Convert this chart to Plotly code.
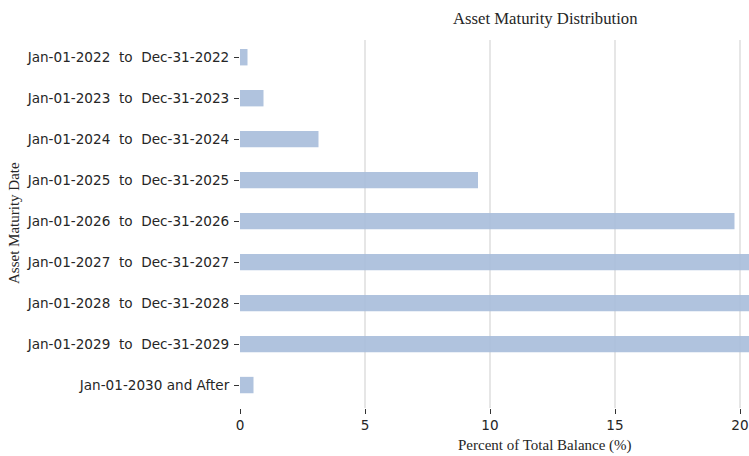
import plotly.graph_objects as go

categories = [
    "Jan-01-2022  to  Dec-31-2022",
    "Jan-01-2023  to  Dec-31-2023",
    "Jan-01-2024  to  Dec-31-2024",
    "Jan-01-2025  to  Dec-31-2025",
    "Jan-01-2026  to  Dec-31-2026",
    "Jan-01-2027  to  Dec-31-2027",
    "Jan-01-2028  to  Dec-31-2028",
    "Jan-01-2029  to  Dec-31-2029",
    "Jan-01-2030 and After",
]
percent_of_balance = [0.30, 0.94, 3.14, 9.52, 19.78, 21.6, 23.2, 21.1, 0.54]
x_tick_values = [0, 5, 10, 15, 20]
x_tick_labels = ["0", "5", "10", "15", "20"]

title_text = "Asset Maturity Distribution"
x_title = "Percent of Total Balance (%)"
y_title = "Asset Maturity Date"

tick_text = [c.replace(" ", "\u00a0") for c in categories]

W, H = 749, 456
L, R, T, B = 240, 0, 40, 48

fig = go.Figure(
    go.Bar(
        y=categories,
        x=percent_of_balance,
        orientation="h",
        width=0.4,
        marker=dict(color="rgba(167,189,218,0.9)", line=dict(width=0)),
        hoverinfo="x+y",
    )
)

fig.update_layout(
    width=W,
    height=H,
    margin=dict(l=L, r=R, t=T, b=B, pad=0),
    paper_bgcolor="white",
    plot_bgcolor="white",
    showlegend=False,
    font=dict(family="DejaVu Sans", size=13.6, color="#262626"),
)

fig.update_xaxes(
    range=[0, 20.36],
    tickvals=x_tick_values,
    ticktext=x_tick_labels,
    showgrid=True,
    gridcolor="#e6e6e6",
    gridwidth=2,
    zeroline=False,
    showline=False,
    ticks="outside",
    ticklen=5,
    tickwidth=1.2,
    tickcolor="#333333",
    tickfont=dict(family="DejaVu Sans", size=13.6, color="#262626"),
)

fig.update_yaxes(
    type="category",
    categoryorder="array",
    categoryarray=categories,
    tickvals=categories,
    ticktext=tick_text,
    range=[8.56, -0.42],
    showgrid=False,
    zeroline=False,
    showline=False,
    ticks="outside",
    ticklen=5,
    tickwidth=1.2,
    tickcolor="#333333",
    ticklabelstandoff=2,
    tickfont=dict(family="DejaVu Sans", size=13.6, color="#262626"),
)

serif = "Liberation Serif, Times New Roman, serif"
fig.add_annotation(
    text=title_text, xref="paper", yref="paper",
    x=(545 - L) / (W - L - R), y=1 + (T - 19) / (H - T - B),
    xanchor="center", yanchor="middle", showarrow=False,
    font=dict(family=serif, size=16.7, color="#262626"),
)
fig.add_annotation(
    text=x_title, xref="paper", yref="paper",
    x=(545 - L) / (W - L - R), y=-(446 - (H - B)) / (H - T - B),
    xanchor="center", yanchor="middle", showarrow=False,
    font=dict(family=serif, size=15, color="#262626"),
)
fig.add_annotation(
    text=y_title, xref="paper", yref="paper",
    x=-(L - 14) / (W - L - R), y=0.5 - (223 - (T + (H - T - B) / 2)) / (H - T - B),
    xanchor="center", yanchor="middle", showarrow=False, textangle=-90,
    font=dict(family=serif, size=15, color="#262626"),
)

fig.write_html(
    "out.html",
    config={"displayModeBar": False},
    post_script="document.body.style.margin='0px';document.body.style.overflow='hidden';",
)
